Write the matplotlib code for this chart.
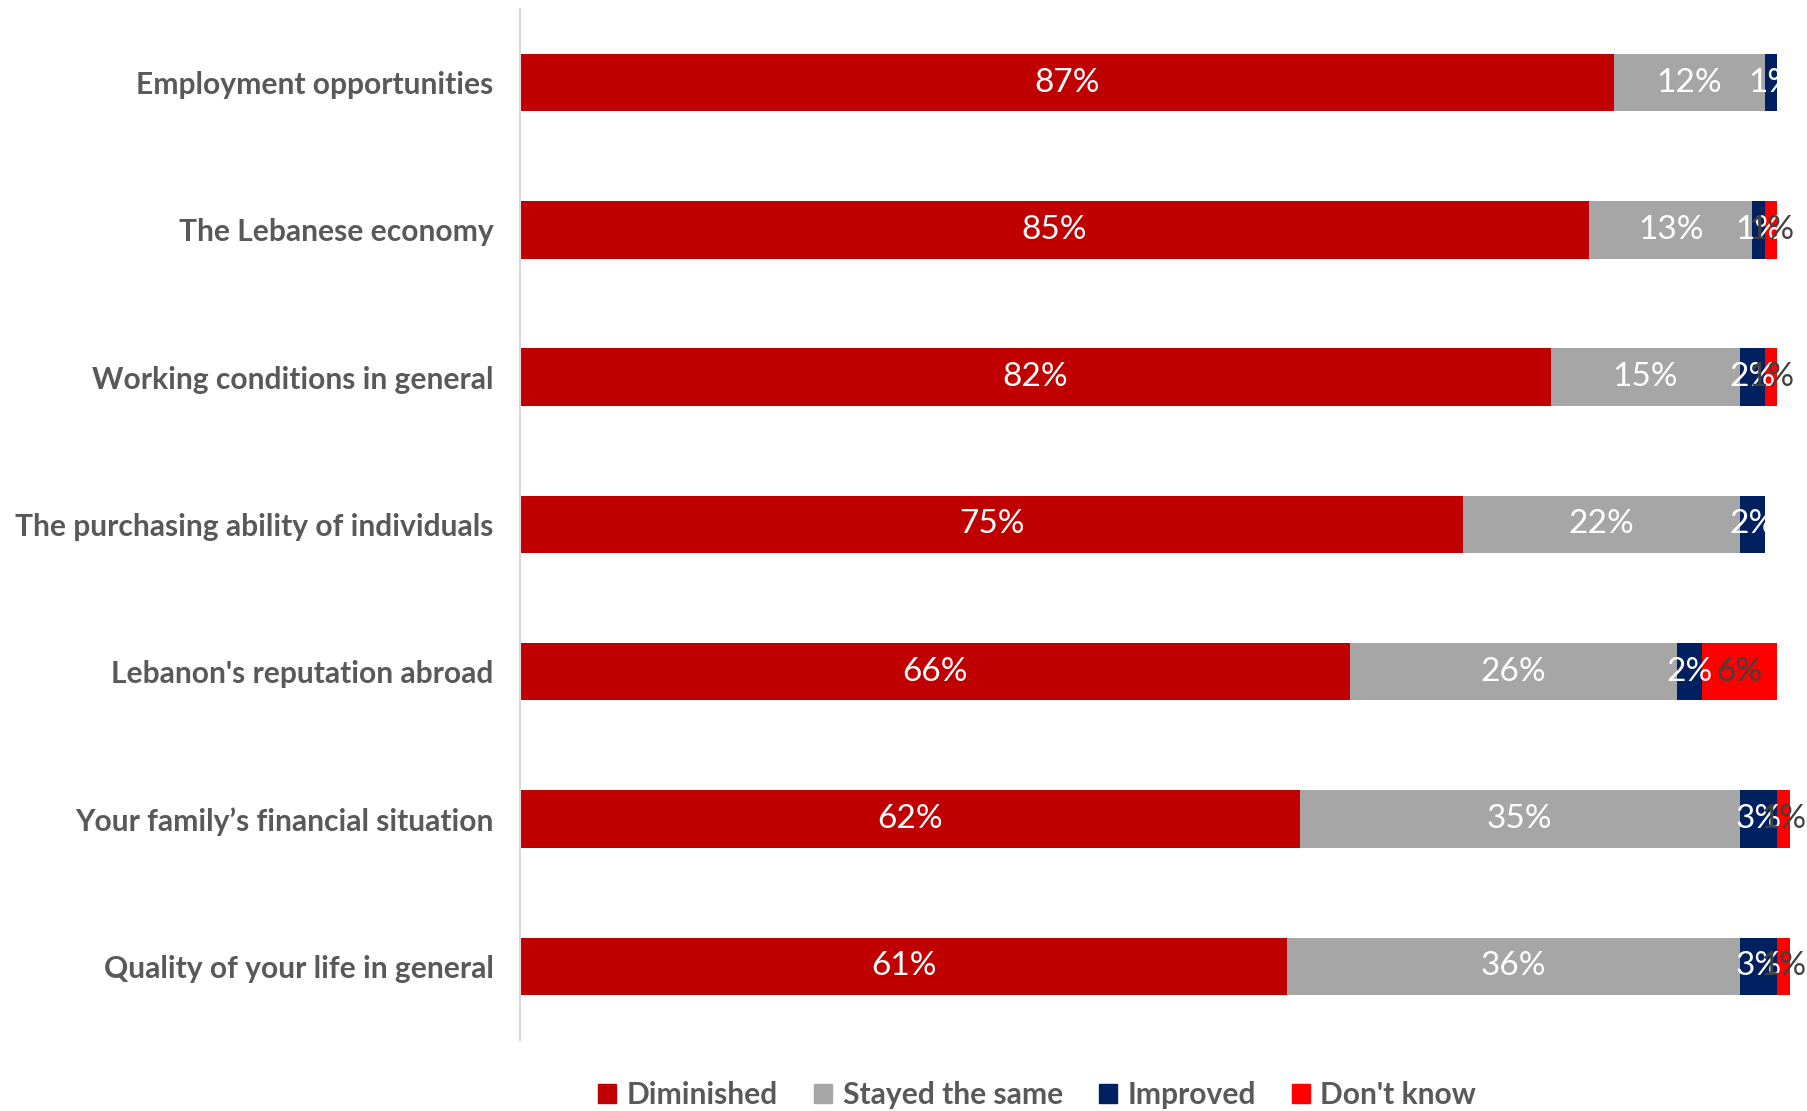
import numpy as np
import matplotlib
matplotlib.use("Agg")
from matplotlib import pyplot as plt
from matplotlib.patches import Patch

plt.rcParams['font.family'] = ['Lato', 'DejaVu Sans']

categories = [
    "Employment opportunities",
    "The Lebanese economy",
    "Working conditions in general",
    "The purchasing ability of individuals",
    "Lebanon's reputation abroad",
    "Your family\u2019s financial situation",
    "Quality of your life in general",
]
diminished = [87, 85, 82, 75, 66, 62, 61]
stayed_same = [12, 13, 15, 22, 26, 35, 36]
improved = [1, 1, 2, 2, 2, 3, 3]
dont_know = [0, 1, 1, 0, 6, 1, 1]

series = [
    ("Diminished", diminished, "#c00000", "white"),
    ("Stayed the same", stayed_same, "#a6a6a6", "white"),
    ("Improved", improved, "#002060", "white"),
    ("Don't know", dont_know, "#ff0000", "#404040"),
]

fig = plt.figure(figsize=(18.07, 11.11), dpi=100)
ax = fig.add_axes([0.2878, 0.064, 0.7028, 0.928])

y = np.arange(len(categories))
left = np.zeros(len(categories))
for name, vals, color, txtcol in series:
    vals = np.array(vals, dtype=float)
    ax.barh(y, vals, left=left, height=0.39, color=color, label=name)
    for i, v in enumerate(vals):
        if v > 0:
            ax.text(left[i] + v / 2, y[i], f"{int(v)}%", ha="center", va="center",
                    color=txtcol, fontsize=24)
    left += vals

# some rows round up to 101%
ax.set_xlim(0, 101)
ax.set_ylim(len(categories) - 0.5, -0.5)
ax.set_yticks(y)
ax.set_yticklabels(categories, fontsize=21.6, fontweight="bold", color="#595959")
ax.tick_params(axis="y", length=0, pad=19)
ax.set_xticks([])
for s in ["top", "right", "bottom"]:
    ax.spines[s].set_visible(False)
ax.spines["left"].set_color("#d9d9d9")
ax.spines["left"].set_linewidth(1.5)

handles = [Patch(color=c, label=n) for n, _, c, _ in series]
leg = fig.legend(handles=handles, loc="center", bbox_to_anchor=(0.574, 0.0144), ncol=4,
                 frameon=False, handlelength=0.6, handleheight=0.6, columnspacing=1.2,
                 handletextpad=0.35, prop={"size": 21.6, "weight": "bold"})
for t in leg.get_texts():
    t.set_color("#595959")

fig.savefig("out.png", dpi=100)
